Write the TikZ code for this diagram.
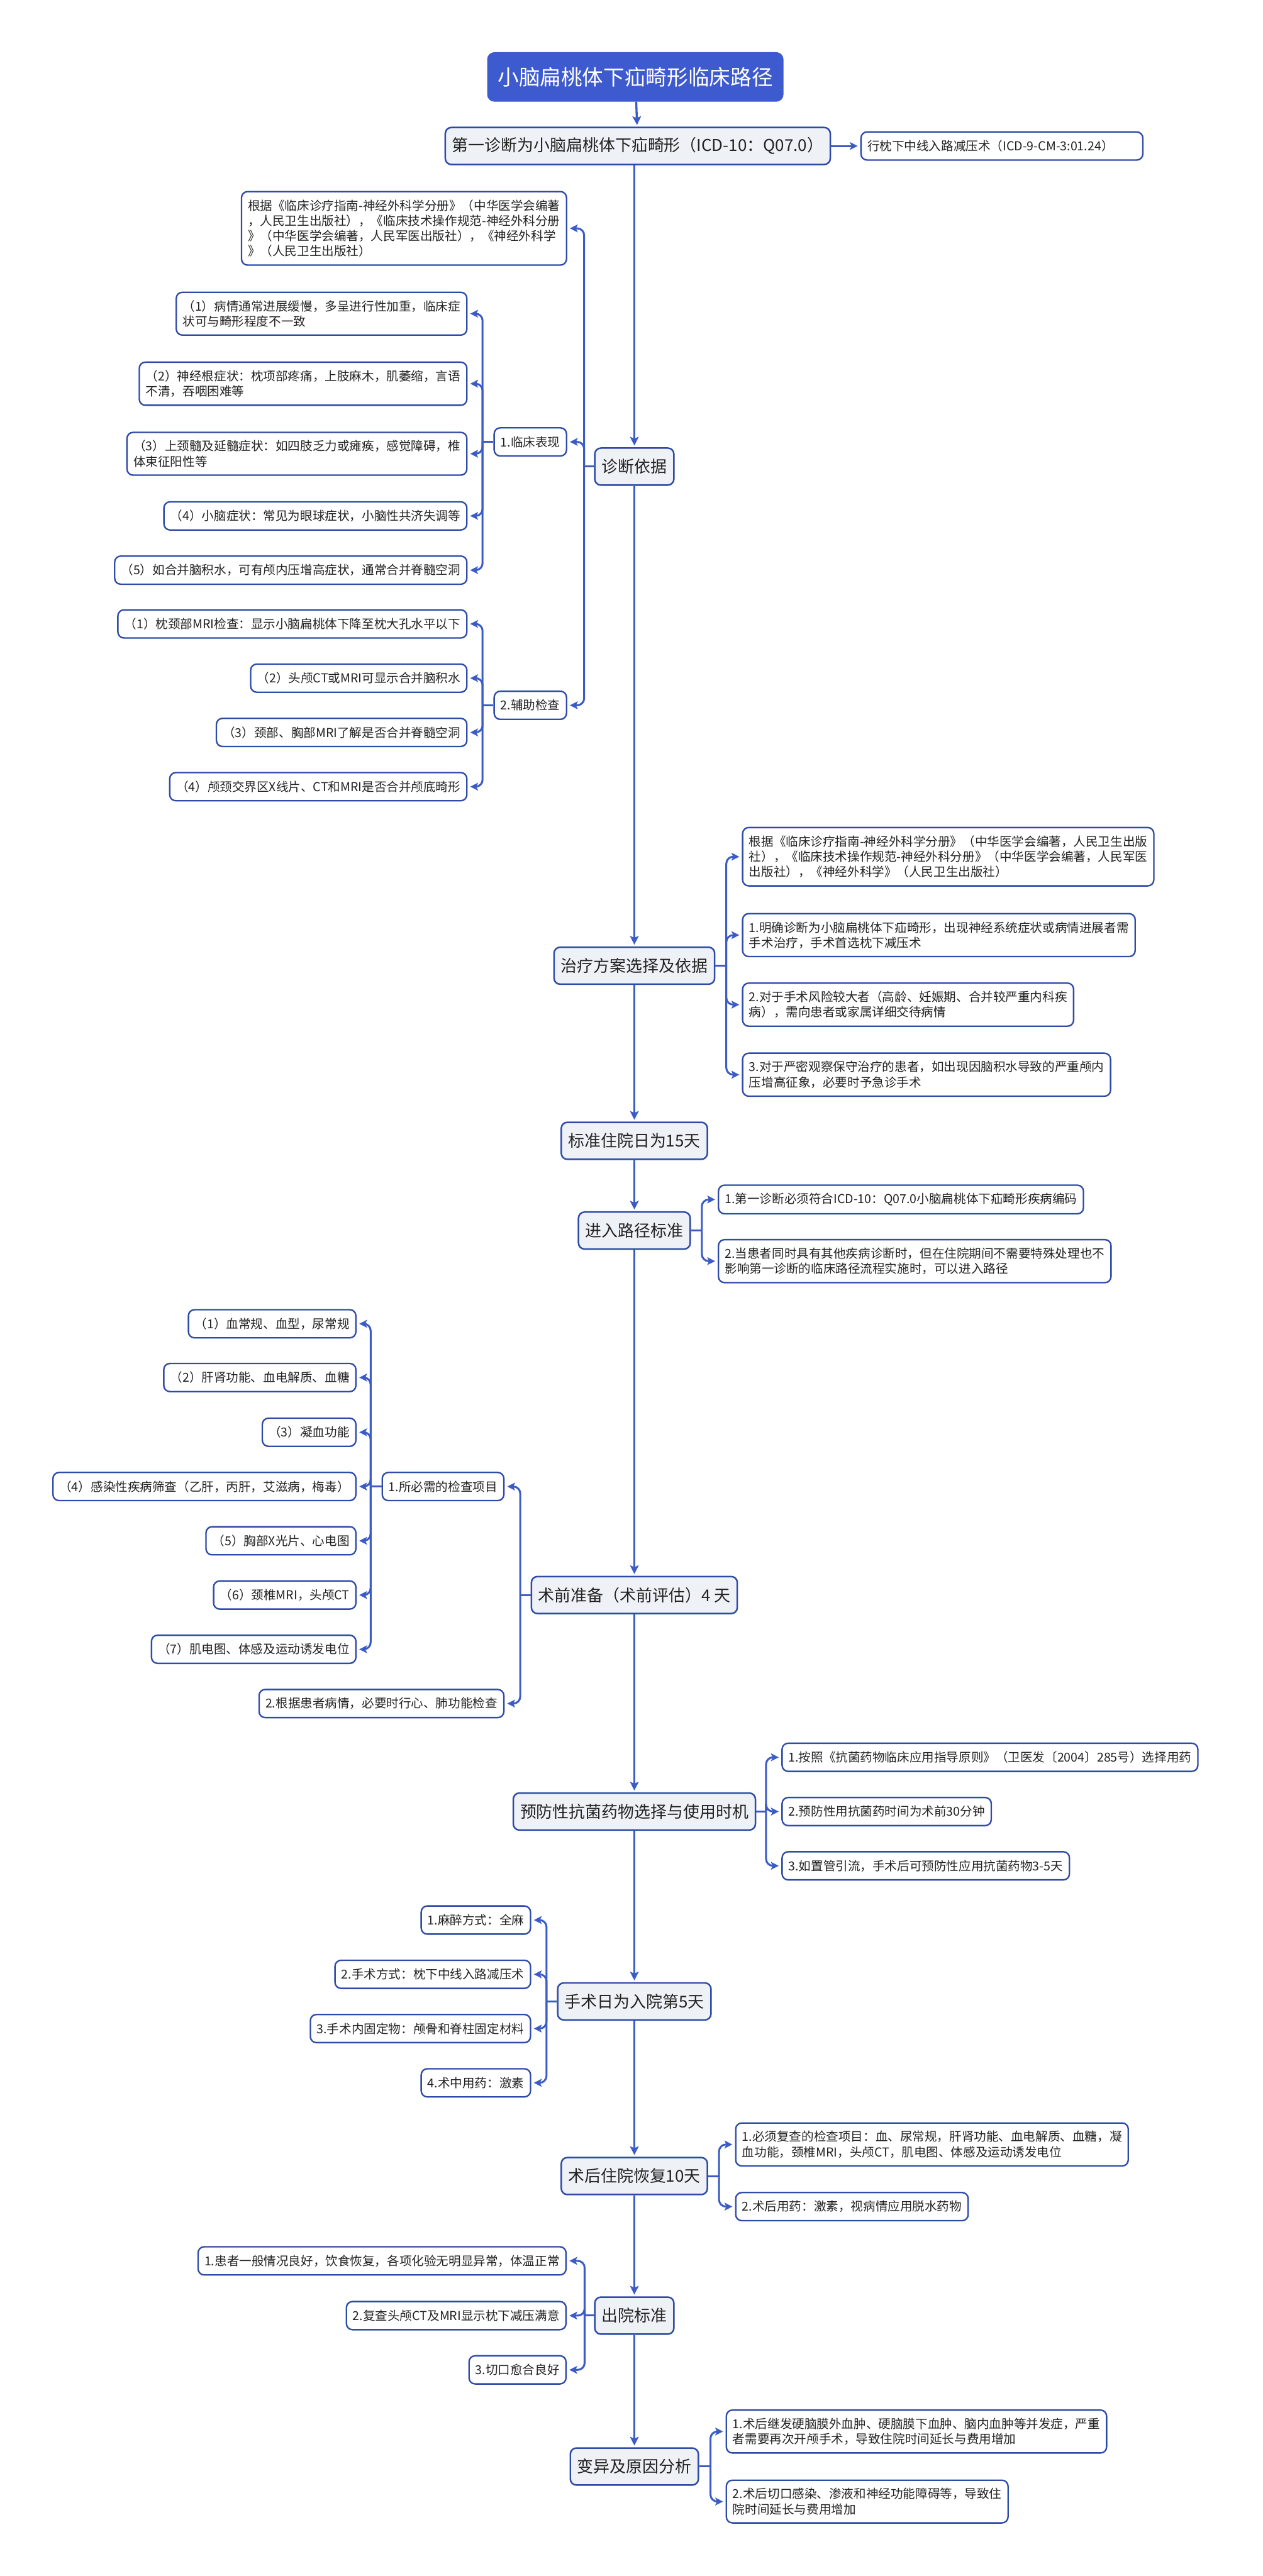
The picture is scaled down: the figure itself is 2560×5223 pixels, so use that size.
\documentclass[tikz,border=0pt]{standalone}
\usepackage{fontspec}
\setmainfont{Noto Sans CJK SC}
\usetikzlibrary{arrows.meta}
\definecolor{lineblue}{HTML}{3B5CC6}
\definecolor{titleblue}{HTML}{3D5ACF}
\definecolor{boxblue}{HTML}{2F4BA8}
\definecolor{mainfill}{HTML}{EEF1F6}
\definecolor{textgray}{HTML}{222222}
\begin{document}
\begin{tikzpicture}[x=0.01cm, y=-0.01cm,
    titlebox/.style={draw=titleblue, fill=titleblue, text=white, rounded corners=4pt,
      font=\fontsize{12.2}{15}\selectfont, minimum width=5.99cm, minimum height=0.99cm},
    mainbox/.style={draw=boxblue, fill=mainfill, rounded corners=3.5pt, line width=0.9pt,
      font=\fontsize{9.4}{12}\selectfont, inner xsep=4pt, minimum height=0.75cm, text=textgray},
    leafbox/.style={draw=boxblue, fill=white, rounded corners=3.5pt, line width=0.85pt,
      font=\fontsize{7.1}{8.8}\selectfont, align=left, inner xsep=3.7pt, inner ysep=4.6pt,
      minimum height=0.57cm, text=textgray},
    spine/.style={draw=lineblue, line width=1.2pt, shorten >=1pt,
      -{Stealth[length=5pt,width=5pt,inset=1pt]}},
    branch/.style={draw=lineblue, line width=1.1pt, rounded corners=4pt, shorten >=1.5pt,
      -{Stealth[length=4.5pt,width=4.5pt,inset=1pt]}},
    stem/.style={draw=lineblue, line width=1.1pt}]
  \fill[white] (0,0) rectangle (2560,5223);
  \useasboundingbox (0,0) rectangle (2560,5223);

  % main column
  \node[titlebox] (title) at (1288,156) {小脑扁桃体下疝畸形临床路径};
  \node[mainbox] (diag) at (1293,296) {第一诊断为小脑扁桃体下疝畸形（ICD-10：Q07.0）};
  \node[mainbox] (basis) at (1286,946) {诊断依据};
  \node[mainbox] (treat) at (1286,1958) {治疗方案选择及依据};
  \node[mainbox] (stay) at (1286,2313) {标准住院日为15天};
  \node[mainbox] (entry) at (1286,2495) {进入路径标准};
  \node[mainbox] (preop) at (1286,3234) {术前准备（术前评估）4 天};
  \node[mainbox] (abx) at (1286,3673) {预防性抗菌药物选择与使用时机};
  \node[mainbox] (opday) at (1286,4058) {手术日为入院第5天};
  \node[mainbox] (post) at (1286,4412) {术后住院恢复10天};
  \node[mainbox] (disch) at (1286,4695) {出院标准};
  \node[mainbox] (vary) at (1286,5001) {变异及原因分析};

  \draw[spine] (title) -- (diag);
  \draw[spine] (diag.south -| basis) -- (basis);
  \draw[spine] (basis) -- (treat);
  \draw[spine] (treat) -- (stay);
  \draw[spine] (stay) -- (entry);
  \draw[spine] (entry) -- (preop);
  \draw[spine] (preop) -- (abx);
  \draw[spine] (abx) -- (opday);
  \draw[spine] (opday) -- (post);
  \draw[spine] (post) -- (disch);
  \draw[spine] (disch) -- (vary);

  % first diagnosis
  \node[leafbox, anchor=west, text width=5.45cm] (diagop) at (1744,296) {行枕下中线入路减压术（ICD-9-CM-3:01.24）};
  \draw[branch] (diag) -- (diagop);

  % diagnosis basis
  \node[leafbox, anchor=east] (basisref) at (1150,463) {根据《临床诊疗指南-神经外科学分册》（中华医学会编著\\，人民卫生出版社），《临床技术操作规范-神经外科分册\\》（中华医学会编著，人民军医出版社），《神经外科学\\》（人民卫生出版社）};
  \node[leafbox, anchor=east] (clin) at (1150,896) {1.临床表现};
  \node[leafbox, anchor=east] (aux) at (1150,1430) {2.辅助检查};
  \draw[stem] (basis.west) -- ++(-20,0) coordinate (basisj);
  \foreach \c in {basisref, clin, aux}
    \draw[branch] (basisj) |- (\c.east);

  \node[leafbox, anchor=east] (clin1) at (948,636) {（1）病情通常进展缓慢，多呈进行性加重，临床症\\状可与畸形程度不一致};
  \node[leafbox, anchor=east] (clin2) at (948,778) {（2）神经根症状：枕项部疼痛，上肢麻木，肌萎缩，言语\\不清，吞咽困难等};
  \node[leafbox, anchor=east] (clin3) at (948,920) {（3）上颈髓及延髓症状：如四肢乏力或瘫痪，感觉障碍，椎\\体束征阳性等};
  \node[leafbox, anchor=east] (clin4) at (948,1046) {（4）小脑症状：常见为眼球症状，小脑性共济失调等};
  \node[leafbox, anchor=east] (clin5) at (948,1156) {（5）如合并脑积水，可有颅内压增高症状，通常合并脊髓空洞};
  \draw[stem] (clin.west) -- ++(-22,0) coordinate (clinj);
  \foreach \c in {clin1, clin2, clin3, clin4, clin5}
    \draw[branch] (clinj) |- (\c.east);

  \node[leafbox, anchor=east] (aux1) at (948,1265) {（1）枕颈部MRI检查：显示小脑扁桃体下降至枕大孔水平以下};
  \node[leafbox, anchor=east] (aux2) at (948,1375) {（2）头颅CT或MRI可显示合并脑积水};
  \node[leafbox, anchor=east] (aux3) at (948,1485) {（3）颈部、胸部MRI了解是否合并脊髓空洞};
  \node[leafbox, anchor=east] (aux4) at (948,1595) {（4）颅颈交界区X线片、CT和MRI是否合并颅底畸形};
  \draw[stem] (aux.west) -- ++(-22,0) coordinate (auxj);
  \foreach \c in {aux1, aux2, aux3, aux4}
    \draw[branch] (auxj) |- (\c.east);

  % treatment
  \node[leafbox, anchor=west] (treatref) at (1504,1737) {根据《临床诊疗指南-神经外科学分册》（中华医学会编著，人民卫生出版\\社），《临床技术操作规范-神经外科分册》（中华医学会编著，人民军医\\出版社），《神经外科学》（人民卫生出版社）};
  \node[leafbox, anchor=west] (treat1) at (1504,1896) {1.明确诊断为小脑扁桃体下疝畸形，出现神经系统症状或病情进展者需\\手术治疗，手术首选枕下减压术};
  \node[leafbox, anchor=west] (treat2) at (1504,2037) {2.对于手术风险较大者（高龄、妊娠期、合并较严重内科疾\\病），需向患者或家属详细交待病情};
  \node[leafbox, anchor=west] (treat3) at (1504,2179) {3.对于严密观察保守治疗的患者，如出现因脑积水导致的严重颅内\\压增高征象，必要时予急诊手术};
  \draw[stem] (treat.east) -- ++(22,0) coordinate (treatj);
  \foreach \c in {treatref, treat1, treat2, treat3}
    \draw[branch] (treatj) |- (\c.west);

  % entry
  \node[leafbox, anchor=west] (entry1) at (1455,2432) {1.第一诊断必须符合ICD-10：Q07.0小脑扁桃体下疝畸形疾病编码};
  \node[leafbox, anchor=west] (entry2) at (1455,2557) {2.当患者同时具有其他疾病诊断时，但在住院期间不需要特殊处理也不\\影响第一诊断的临床路径流程实施时，可以进入路径};
  \draw[stem] (entry.east) -- ++(22,0) coordinate (entryj);
  \foreach \c in {entry1, entry2}
    \draw[branch] (entryj) |- (\c.west);

  % preoperative
  \node[leafbox, anchor=east] (preopA) at (1023,3014) {1.所必需的检查项目};
  \node[leafbox, anchor=east] (preopB) at (1023,3454) {2.根据患者病情，必要时行心、肺功能检查};
  \draw[stem] (preop.west) -- ++(-21,0) coordinate (preopj);
  \foreach \c in {preopA, preopB}
    \draw[branch] (preopj) |- (\c.east);

  \node[leafbox, anchor=east] (pre1) at (723,2684) {（1）血常规、血型，尿常规};
  \node[leafbox, anchor=east] (pre2) at (723,2793) {（2）肝肾功能、血电解质、血糖};
  \node[leafbox, anchor=east] (pre3) at (723,2904) {（3）凝血功能};
  \node[leafbox, anchor=east] (pre4) at (723,3014) {（4）感染性疾病筛查（乙肝，丙肝，艾滋病，梅毒）};
  \node[leafbox, anchor=east] (pre5) at (723,3124) {（5）胸部X光片、心电图};
  \node[leafbox, anchor=east] (pre6) at (723,3234) {（6）颈椎MRI，头颅CT};
  \node[leafbox, anchor=east] (pre7) at (723,3344) {（7）肌电图、体感及运动诱发电位};
  \draw[stem] (preopA.west) -- ++(-22,0) coordinate (prej);
  \foreach \c in {pre1, pre2, pre3, pre4, pre5, pre6, pre7}
    \draw[branch] (prej) |- (\c.east);

  % antibiotics
  \node[leafbox, anchor=west] (abx1) at (1584,3563) {1.按照《抗菌药物临床应用指导原则》（卫医发〔2004〕285号）选择用药};
  \node[leafbox, anchor=west] (abx2) at (1584,3673) {2.预防性用抗菌药时间为术前30分钟};
  \node[leafbox, anchor=west] (abx3) at (1584,3783) {3.如置管引流，手术后可预防性应用抗菌药物3-5天};
  \draw[stem] (abx.east) -- ++(20,0) coordinate (abxj);
  \foreach \c in {abx1, abx2, abx3}
    \draw[branch] (abxj) |- (\c.west);

  % operation day
  \node[leafbox, anchor=east] (op1) at (1077,3893) {1.麻醉方式：全麻};
  \node[leafbox, anchor=east] (op2) at (1077,4003) {2.手术方式：枕下中线入路减压术};
  \node[leafbox, anchor=east] (op3) at (1077,4113) {3.手术内固定物：颅骨和脊柱固定材料};
  \node[leafbox, anchor=east] (op4) at (1077,4223) {4.术中用药：激素};
  \draw[stem] (opday.west) -- ++(-21,0) coordinate (opj);
  \foreach \c in {op1, op2, op3, op4}
    \draw[branch] (opj) |- (\c.east);

  % postoperative
  \node[leafbox, anchor=west] (post1) at (1490,4348) {1.必须复查的检查项目：血、尿常规，肝肾功能、血电解质、血糖，凝\\血功能，颈椎MRI，头颅CT，肌电图、体感及运动诱发电位};
  \node[leafbox, anchor=west] (post2) at (1490,4474) {2.术后用药：激素，视病情应用脱水药物};
  \draw[stem] (post.east) -- ++(22,0) coordinate (postj);
  \foreach \c in {post1, post2}
    \draw[branch] (postj) |- (\c.west);

  % discharge
  \node[leafbox, anchor=east] (dis1) at (1149,4584) {1.患者一般情况良好，饮食恢复，各项化验无明显异常，体温正常};
  \node[leafbox, anchor=east] (dis2) at (1149,4695) {2.复查头颅CT及MRI显示枕下减压满意};
  \node[leafbox, anchor=east] (dis3) at (1149,4805) {3.切口愈合良好};
  \draw[stem] (disch.west) -- ++(-19,0) coordinate (disj);
  \foreach \c in {dis1, dis2, dis3}
    \draw[branch] (disj) |- (\c.east);

  % variation
  \node[leafbox, anchor=west] (var1) at (1471,4930) {1.术后继发硬脑膜外血肿、硬脑膜下血肿、脑内血肿等并发症，严重\\者需要再次开颅手术，导致住院时间延长与费用增加};
  \node[leafbox, anchor=west] (var2) at (1471,5072) {2.术后切口感染、渗液和神经功能障碍等，导致住\\院时间延长与费用增加};
  \draw[stem] (vary.east) -- ++(23,0) coordinate (varj);
  \foreach \c in {var1, var2}
    \draw[branch] (varj) |- (\c.west);
\end{tikzpicture}
\end{document}
